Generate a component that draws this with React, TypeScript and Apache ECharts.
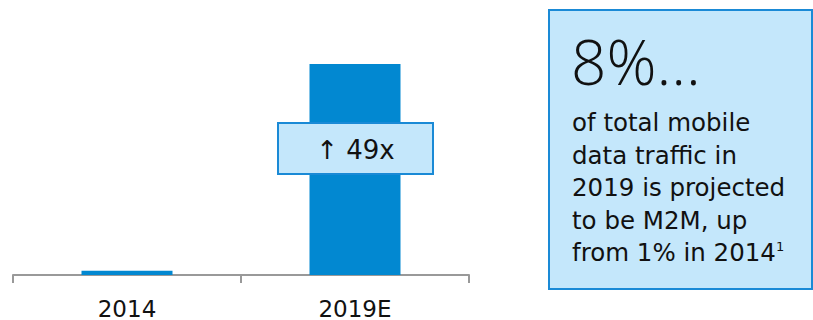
import React, { useEffect, useRef } from "react";
import * as echarts from "echarts";

const categories = ["2014", "2019E"];
const values = [1, 49];
const growthLabel = "↑ 49x";
const headline = "8%...";
const bodyLines = [
  "of total mobile",
  "data traffic in",
  "2019 is projected",
  "to be M2M, up",
  "from 1% in 2014{sup|1}",
];

const FONT = "'DejaVu Sans', sans-serif";
const HFONT = "'Open Sans', sans-serif";
const BLUE = "#0288d1";
const LIGHT = "#c4e7fb";

export default function App() {
  const ref = useRef<HTMLDivElement>(null);
  useEffect(() => {
    const chart = echarts.init(ref.current!, null, { renderer: "svg" });
    const texts: any[] = bodyLines.map((t, i) => ({
      type: "text",
      left: 572,
      top: 110 + i * 32.5,
      style: {
        text: t,
        font: `24.5px ${FONT}`,
        fill: "#111",
        rich: { sup: { fontSize: 13, verticalAlign: "top", padding: [0, 0, 12, 0], fontFamily: FONT } },
      },
    }));
    chart.setOption({
      animation: false,
      grid: { left: 13, right: 344, top: 64, bottom: 44 },
      xAxis: {
        type: "category",
        data: categories,
        axisLine: { lineStyle: { color: "#999", width: 2 } },
        axisTick: { show: true, length: 8, lineStyle: { color: "#999", width: 2 } },
        axisLabel: { fontSize: 23, color: "#111", fontFamily: FONT, margin: 22 },
      },
      yAxis: { type: "value", min: 0, max: 49, show: false, splitLine: { show: false } },
      series: [
        {
          type: "bar",
          data: values,
          barWidth: 91,
          itemStyle: { color: BLUE },
        },
      ],
      graphic: [
        {
          type: "rect",
          shape: { x: 278, y: 123, width: 155, height: 51 },
          style: { fill: LIGHT, stroke: "#1a8ad6", lineWidth: 2 },
          z: 10,
        },
        {
          type: "text",
          x: 355.5,
          y: 150,
          style: {
            text: growthLabel,
            font: `26px ${FONT}`,
            fill: "#111",
            align: "center",
            verticalAlign: "middle",
          },
          z: 11,
        },
        {
          type: "rect",
          shape: { x: 549, y: 10, width: 263, height: 279 },
          style: { fill: LIGHT, stroke: "#1a8ad6", lineWidth: 2 },
          z: 10,
        },
        {
          type: "text",
          left: 571,
          top: 30,
          style: { text: headline, font: `300 62px ${HFONT}`, fill: "#111" },
          z: 11,
        },
        ...texts.map((t) => ({ ...t, z: 11 })),
      ],
    });
    return () => chart.dispose();
  }, []);
  return <div ref={ref} style={{ width: 813, height: 320, position: "absolute", left: 0, top: 0 }} />;
}
